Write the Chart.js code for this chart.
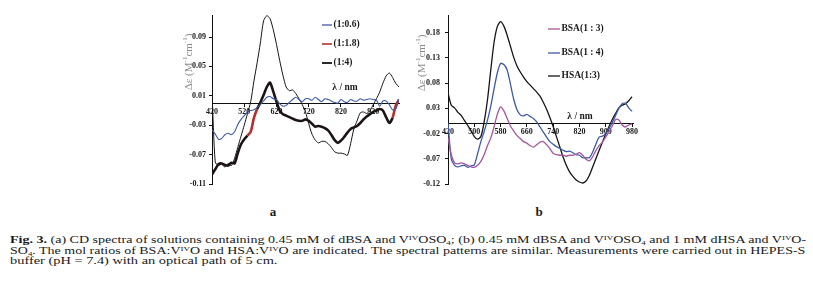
<!DOCTYPE html>
<html>
<head>
<meta charset="utf-8">
<script src="https://cdn.jsdelivr.net/npm/chart.js@4.4.1/dist/chart.umd.min.js"></script>
<style>
  body { margin: 0; width: 813px; height: 283px; overflow: hidden; position: relative; background: #fff;
         font-family: "Liberation Serif", "Times New Roman", serif; color: #1a1a1a; }
  #chart-a { position: absolute; left: 0; top: 0; }
  #chart-b { position: absolute; left: 405px; top: 0; }
  .panel { position: absolute; top: 212px; font-weight: bold; font-size: 13px; transform: translate(-50%, -50%); }
  .cap { position: absolute; left: 10px; font-size: 11px; line-height: 11px; white-space: nowrap; }
  .cap span { display: inline-block; transform-origin: 0 0; }
  .cap sup, .cap sub { font-size: 7px; line-height: 0; }
  .cap sup { vertical-align: 3.5px; }
  .cap sub { vertical-align: -1.5px; }
</style>
</head>
<body>
<canvas id="chart-a" width="405" height="200" style="width:405px;height:200px"></canvas>
<canvas id="chart-b" width="245" height="200" style="width:245px;height:200px"></canvas>
<div class="panel" style="left:273px">a</div>
<div class="panel" style="left:539px">b</div>
<div class="cap" style="top:234px" data-w="796"><span><b>Fig. 3.</b> (a) CD spectra of solutions containing 0.45 mM of dBSA and V<sup>IV</sup>OSO<sub>4</sub>; (b) 0.45 mM dBSA and V<sup>IV</sup>OSO<sub>4</sub> and 1 mM dHSA and V<sup>IV</sup>O-</span></div>
<div class="cap" style="top:245px" data-w="796"><span>SO<sub>4</sub>. The mol ratios of BSA:V<sup>IV</sup>O and HSA:V<sup>IV</sup>O are indicated. The spectral patterns are similar. Measurements were carried out in HEPES-S</span></div>
<div class="cap" style="top:255px" data-w="268"><span>buffer (pH = 7.4) with an optical path of 5 cm.</span></div>
<script>
// panel a: dBSA + VOSO4, wavelengths in nm
const aWavelengths = [420, 430, 440, 450, 460, 470, 480, 490, 500, 510,
                      520, 530, 540, 550, 560, 570, 580, 590, 600, 610,
                      620, 630, 640, 650, 660, 670, 680, 690, 700, 710,
                      720, 730, 740, 750, 760, 770, 780, 790, 800, 810,
                      820, 830, 840, 850, 860, 870, 880, 890, 900, 910,
                      920, 930, 940, 950, 960, 970, 980, 990, 1000];
const aRatio06 = [-0.036, -0.042, -0.049, -0.048, -0.043, -0.041, -0.043, -0.039, -0.029, -0.022,
                  -0.017, -0.012, -0.010, -0.009, -0.006, -0.002, 0.003, 0.008, 0.009, 0.006,
                  0.005, -0.001, -0.004, -0.003, 0.001, 0.005, 0.008, 0.005, 0.002, 0.006,
                  0.006, 0.004, 0.008, 0.005, 0.002, 0.006, 0.005, 0.003, 0.001, 0.000,
                  0.005, 0.002, 0.001, 0.005, 0.003, 0.003, 0.006, 0.004, 0.005, 0.006,
                  0.005, 0.004, -0.004, 0.003, 0.003, -0.002, -0.009, -0.008, 0.005];
const aRatio18 = [-0.097, -0.090, -0.083, -0.082, -0.084, -0.085, -0.081, -0.082, -0.068, -0.056,
                  -0.049, -0.044, -0.039, -0.020, -0.008, 0.001, 0.011, 0.022, 0.028, 0.016,
                  0.002, -0.010, -0.015, -0.017, -0.019, -0.021, -0.023, -0.024, -0.024, -0.022,
                  -0.024, -0.028, -0.032, -0.031, -0.032, -0.034, -0.037, -0.043, -0.050, -0.054,
                  -0.051, -0.046, -0.040, -0.035, -0.033, -0.031, -0.027, -0.022, -0.018, -0.015,
                  -0.012, -0.010, -0.008, -0.010, -0.019, -0.027, -0.020, -0.003, 0.005];
const aRatio4  = [0.015, -0.080, -0.085, -0.083, -0.087, -0.082, -0.085, -0.075, -0.060, -0.045,
                  -0.030, -0.014, 0.002, 0.030, 0.055, 0.082, 0.112, 0.119, 0.115, 0.100,
                  0.080, 0.058, 0.038, 0.022, 0.017, 0.018, 0.013, 0.006, -0.002, -0.012,
                  -0.028, -0.042, -0.050, -0.054, -0.052, -0.052, -0.055, -0.060, -0.066, -0.068,
                  -0.068, -0.069, -0.071, -0.055, -0.035, -0.024, -0.013, -0.012, -0.014, -0.010,
                  -0.002, 0.006, 0.015, 0.027, 0.037, 0.041, 0.035, 0.027, 0.022];
const aXTicks = [420, 520, 620, 720, 820, 920];
const aYTicks = [-0.11, -0.07, -0.03, 0.01, 0.05, 0.09];

// panel b: dBSA / dHSA + VOSO4
const bWavelengths = [420, 430, 440, 450, 460, 470, 480, 490, 500, 510,
                      520, 530, 540, 550, 560, 570, 580, 590, 600, 610,
                      620, 630, 640, 650, 660, 670, 680, 690, 700, 710,
                      720, 730, 740, 750, 760, 770, 780, 790, 800, 810,
                      820, 830, 840, 850, 860, 870, 880, 890, 900, 910,
                      920, 930, 940, 950, 960, 970, 980];
const bBsa13 = [-0.028, -0.062, -0.078, -0.080, -0.078, -0.080, -0.083, -0.086, -0.087, -0.083,
                -0.075, -0.062, -0.044, -0.029, -0.007, 0.018, 0.033, 0.025, 0.010, -0.005,
                -0.015, -0.024, -0.030, -0.036, -0.039, -0.044, -0.047, -0.042, -0.037, -0.036,
                -0.042, -0.050, -0.059, -0.062, -0.063, -0.063, -0.065, -0.063, -0.063, -0.061,
                -0.058, -0.063, -0.071, -0.074, -0.066, -0.054, -0.044, -0.037, -0.027, -0.016,
                -0.005, 0.008, 0.007, -0.003, -0.007, -0.003, -0.001];
const bBsa14 = [0.001, -0.070, -0.083, -0.086, -0.084, -0.083, -0.087, -0.084, -0.082, -0.060,
                -0.036, -0.016, 0.006, 0.034, 0.068, 0.100, 0.119, 0.117, 0.106, 0.078,
                0.048, 0.027, 0.017, 0.015, 0.018, 0.014, 0.010, 0.003, -0.007, -0.017,
                -0.027, -0.036, -0.041, -0.046, -0.049, -0.053, -0.056, -0.055, -0.058, -0.062,
                -0.063, -0.068, -0.068, -0.068, -0.057, -0.041, -0.027, -0.025, -0.020, -0.010,
                0.002, 0.016, 0.030, 0.039, 0.040, 0.031, 0.024];
const bHsa13 = [0.061, 0.036, 0.031, 0.022, 0.016, 0.006, -0.004, -0.014, -0.026, -0.031,
                -0.026, 0.003, 0.046, 0.105, 0.160, 0.192, 0.202, 0.193, 0.175, 0.153,
                0.131, 0.114, 0.102, 0.092, 0.083, 0.076, 0.069, 0.062, 0.054, 0.042,
                0.028, 0.012, -0.006, -0.026, -0.046, -0.066, -0.083, -0.096, -0.105, -0.112,
                -0.116, -0.118, -0.114, -0.103, -0.087, -0.070, -0.053, -0.037, -0.021, -0.006,
                0.008, 0.020, 0.031, 0.036, 0.039, 0.045, 0.053];
const bXTicks = [420, 500, 580, 660, 740, 820, 900, 980];
const bYTicks = [-0.12, -0.07, -0.02, 0.03, 0.08, 0.13, 0.18];

const SERIF = "'Liberation Serif', 'Times New Roman', serif";
const pts = (xs, ys) => xs.map((x, i) => ({ x, y: ys[i] }));

// stretch each caption line to the width it has in the figure
document.querySelectorAll('.cap').forEach(line => {
    const span = line.querySelector('span');
    span.style.transform = 'scaleX(' + (line.dataset.w / span.offsetWidth) + ')';
});

// y-axis title, "λ / nm" label and legend drawn by hand
function decor(cfg) {
    return {
        id: 'decor',
        afterDraw(chart) {
            const ctx = chart.ctx;
            ctx.save();

            // Δε (M-1cm-1), rotated
            const parts = [['Δε (M', 11, 0], ['-1', 7, -4], ['cm', 11, 0], ['-1', 7, -4], [')', 11, 0]];
            ctx.translate(cfg.titleX, cfg.titleY);
            ctx.rotate(-Math.PI / 2);
            ctx.fillStyle = '#8a8a8a';
            ctx.textBaseline = 'middle';
            let total = 0;
            parts.forEach(p => { ctx.font = p[1] + 'px ' + SERIF; total += ctx.measureText(p[0]).width; });
            let x = -total / 2;
            parts.forEach(p => {
                ctx.font = p[1] + 'px ' + SERIF;
                ctx.fillText(p[0], x, p[2]);
                x += ctx.measureText(p[0]).width;
            });
            ctx.setTransform(1, 0, 0, 1, 0, 0);

            ctx.fillStyle = '#1a1a1a';
            ctx.font = 'bold 9.5px ' + SERIF;
            ctx.textAlign = 'center';
            ctx.fillText('λ / nm', cfg.lambdaX, cfg.lambdaY);

            ctx.textAlign = 'left';
            chart.data.datasets.forEach((ds, i) => {
                const y = cfg.legendY[i];
                ctx.strokeStyle = ds.legendColor || ds.borderColor;
                ctx.lineWidth = ds.legendWidth || 1.3;
                ctx.beginPath();
                ctx.moveTo(cfg.legendX, y);
                ctx.lineTo(cfg.legendX + cfg.legendLen, y);
                ctx.stroke();
                ctx.fillText(ds.label, cfg.legendX + cfg.legendLen + 1.5, y);
            });
            ctx.restore();
        }
    };
}

function axes(xMin, xMax, yMin, yMax, xTicks, yTicks, yWidth, yPad) {
    const tickFont = { family: SERIF, size: 8, weight: 'bold' };
    return {
        x: {
            type: 'linear', min: xMin, max: xMax,
            position: { y: 0 },
            afterFit: s => { s.height = 0; },
            afterBuildTicks: s => { s.ticks = xTicks.map(v => ({ value: v })); },
            ticks: { font: tickFont, color: '#1a1a1a', padding: 1, autoSkip: false, maxRotation: 0 },
            grid: { drawOnChartArea: false, tickLength: 3, color: '#111' },
            border: { color: '#111', width: 1 },
        },
        y: {
            min: yMin, max: yMax,
            afterFit: s => { s.width = yWidth; },
            afterBuildTicks: s => { s.ticks = yTicks.map(v => ({ value: v })); },
            ticks: { font: tickFont, color: '#1a1a1a', padding: yPad, callback: v => v.toFixed(2) },
            grid: { drawOnChartArea: false, tickLength: 3, color: '#111' },
            border: { color: '#111', width: 1 },
        },
    };
}

const redBits = x => (x >= 530 && x < 560) || x >= 980;

new Chart(document.getElementById('chart-a'), {
    type: 'line',
    data: {
        datasets: [
            { label: '(1:0.6)', data: pts(aWavelengths, aRatio06), borderColor: '#3d5aa6', borderWidth: 1.1 },
            { label: '(1:1.8)', data: pts(aWavelengths, aRatio18), borderColor: '#1c1414', borderWidth: 2.6,
              legendColor: '#b3302c', legendWidth: 1.6,
              segment: { borderColor: c => redBits(c.p0.parsed.x) ? '#b3302c' : undefined } },
            { label: '(1:4)', data: pts(aWavelengths, aRatio4), borderColor: '#151515', borderWidth: 1, legendWidth: 1.8 },
        ],
    },
    options: {
        responsive: false,
        animation: false,
        layout: { padding: { left: 0, right: 6, top: 15, bottom: 16 } },
        elements: { point: { radius: 0 }, line: { tension: 0.25 } },
        plugins: { legend: { display: false }, tooltip: { enabled: false } },
        scales: axes(420, 1000, -0.11, 0.12, aXTicks, aYTicks, 212, 3),
    },
    plugins: [decor({ titleX: 189, titleY: 62, lambdaX: 345, lambdaY: 88,
                      legendX: 322, legendLen: 10, legendY: [25, 44, 63] })],
});

new Chart(document.getElementById('chart-b'), {
    type: 'line',
    data: {
        datasets: [
            { label: 'BSA(1 : 3)', data: pts(bWavelengths, bBsa13), borderColor: '#a5569e', borderWidth: 1.3 },
            { label: 'BSA(1 : 4)', data: pts(bWavelengths, bBsa14), borderColor: '#3d5aa6', borderWidth: 1.3 },
            { label: 'HSA(1:3)', data: pts(bWavelengths, bHsa13), borderColor: '#151515', borderWidth: 1.3 },
        ],
    },
    options: {
        responsive: false,
        animation: false,
        layout: { padding: { left: 0, right: 17, top: 15, bottom: 16 } },
        elements: { point: { radius: 0 }, line: { tension: 0.25 } },
        plugins: { legend: { display: false }, tooltip: { enabled: false } },
        scales: axes(420, 983, -0.12, 0.215, bXTicks, bYTicks, 43, 5),
    },
    plugins: [decor({ titleX: 17, titleY: 63, lambdaX: 175, lambdaY: 117,
                      legendX: 143, legendLen: 12, legendY: [29, 53, 76] })],
});
</script>
</body>
</html>
